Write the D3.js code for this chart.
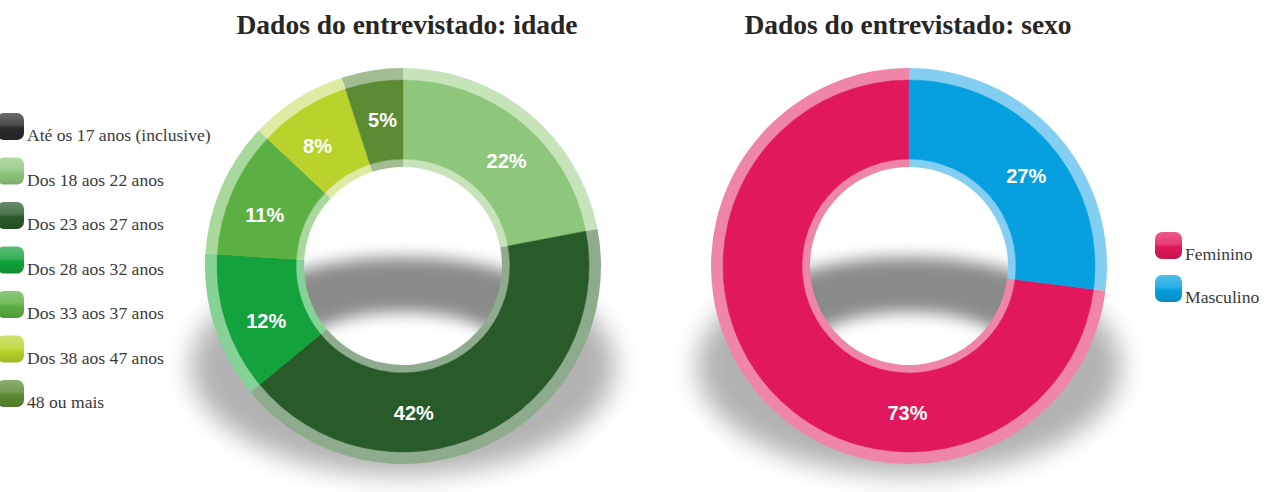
<!DOCTYPE html>
<html>
<head>
<meta charset="utf-8">
<script src="https://cdn.jsdelivr.net/npm/d3@7"></script>
<style>
  html, body { margin: 0; padding: 0; background: #ffffff; }
  svg { display: block; }
</style>
</head>
<body>
<svg id="chart" width="1273" height="492"></svg>
<script>
// ---------- data ----------
const titles = ["Dados do entrevistado: idade", "Dados do entrevistado: sexo"];

const ageCategories = ["Até os 17 anos (inclusive)", "Dos 18 aos 22 anos", "Dos 23 aos 27 anos",
  "Dos 28 aos 32 anos", "Dos 33 aos 37 anos", "Dos 38 aos 47 anos", "48 ou mais"];
const ageValues = [0, 22, 42, 12, 11, 8, 5];
const ageColors = ["#2b2b2b", "#8ec77c", "#295a2a", "#13a23b", "#5cb043", "#b9d32c", "#5b8b33"];
const ageRimColors = ["#777777", "#c7e3ba", "#8eab8d", "#86d196", "#a9d89c", "#dfeba3", "#a3bc91"];
const ageLabelNudge = [0, 5, 21, -4, -3, -3, 1]; // degrees

const sexCategories = ["Feminino", "Masculino"];
const sexValues = [73, 27];
const sexColors = ["#e1185b", "#06a0e0"];
const sexRimColors = ["#ef86aa", "#84cff1"];
const sexLabelNudge = [-48, 4];

// ---------- layout ----------
const svg = d3.select("#chart");
const defs = svg.append("defs");

defs.append("filter").attr("id", "blurOuter").attr("x", "-30%").attr("y", "-40%").attr("width", "160%").attr("height", "180%")
  .append("feGaussianBlur").attr("stdDeviation", 13);
defs.append("filter").attr("id", "blurInner").attr("x", "-30%").attr("y", "-40%").attr("width", "160%").attr("height", "180%")
  .append("feGaussianBlur").attr("stdDeviation", 8);

const R = { holeRim: 99, inner: 107, outer: 186, rim: 198 };

function ellipsePath(cx, cy, rx, ry) {
  return `M${cx - rx},${cy}A${rx},${ry} 0 1,0 ${cx + rx},${cy}A${rx},${ry} 0 1,0 ${cx - rx},${cy}Z`;
}

function drawDonut(id, cx, cy, cats, values, colors, rimColors, nudges, sortAsc) {
  const g = svg.append("g").attr("transform", `translate(${cx},${cy})`);

  const mask = defs.append("mask").attr("id", "m" + id).attr("maskUnits", "userSpaceOnUse")
    .attr("x", -400).attr("y", -400).attr("width", 800).attr("height", 800);
  mask.append("rect").attr("x", -400).attr("y", -400).attr("width", 800).attr("height", 800).attr("fill", "#fff");
  mask.append("circle").attr("r", R.inner).attr("fill", "#000");
  defs.append("clipPath").attr("id", "c" + id).append("circle").attr("r", R.inner);

  const ring = ellipsePath(0, 100, 212, 109) + ellipsePath(0, 102, 118, 56);
  // cast shadow around the bottom of the donut
  g.append("g").attr("mask", `url(#m${id})`)
    .append("path").attr("d", ring).attr("fill-rule", "evenodd")
    .attr("fill", "#000").attr("opacity", 0.3).attr("filter", "url(#blurOuter)");
  // cast shadow seen through the hole
  g.append("g").attr("clip-path", `url(#c${id})`)
    .append("path").attr("d", ring).attr("fill-rule", "evenodd")
    .attr("fill", "#000").attr("opacity", 0.46).attr("filter", "url(#blurInner)");

  const pie = d3.pie().value(d => d);
  if (sortAsc) pie.sortValues((a, b) => a - b); else pie.sort(null);
  const arcs = pie(values);

  const arcMain = d3.arc().innerRadius(R.inner).outerRadius(R.outer);
  const arcOuterRim = d3.arc().innerRadius(R.outer - 0.5).outerRadius(R.rim);
  const arcInnerRim = d3.arc().innerRadius(R.holeRim).outerRadius(R.inner + 0.5);

  g.selectAll("path.rimO").data(arcs).join("path").attr("class", "rimO")
    .attr("d", arcOuterRim).attr("fill", (d, i) => rimColors[i]);
  g.selectAll("path.rimI").data(arcs).join("path").attr("class", "rimI")
    .attr("d", arcInnerRim).attr("fill", (d, i) => rimColors[i]);
  g.selectAll("path.main").data(arcs).join("path").attr("class", "main")
    .attr("d", arcMain).attr("fill", (d, i) => colors[i])
    .attr("stroke", (d, i) => colors[i]).attr("stroke-width", 0.5);

  const rl = (R.inner + R.outer) / 2 + 1;
  const labelled = arcs.map((d, i) => ({ d, i })).filter(o => o.d.value > 0);
  g.selectAll("text.lbl").data(labelled).join("text").attr("class", "lbl")
    .attr("transform", o => {
      const a = (o.d.startAngle + o.d.endAngle) / 2 + nudges[o.i] * Math.PI / 180;
      return `translate(${rl * Math.sin(a)},${-rl * Math.cos(a)})`;
    })
    .attr("text-anchor", "middle").attr("dominant-baseline", "central")
    .attr("font-family", "'Liberation Sans', Arial, sans-serif").attr("font-weight", "bold")
    .attr("font-size", 20).attr("fill", "#ffffff")
    .text(o => o.d.value + "%");
}

function drawLegend(id, x0, y0, step, cats, colors) {
  const g = svg.append("g").attr("transform", `translate(${x0},${y0})`);
  const items = g.selectAll("g").data(cats).join("g")
    .attr("transform", (d, i) => `translate(0,${i * step})`);
  items.each(function (d, i) {
    const c = d3.color(colors[i]);
    const gid = `lg${id}${i}`;
    const lg = defs.append("linearGradient").attr("id", gid).attr("x1", 0).attr("y1", 0).attr("x2", 0).attr("y2", 1);
    lg.append("stop").attr("offset", "0%").attr("stop-color", d3.interpolateRgb(c, "#fff")(0.3));
    lg.append("stop").attr("offset", "45%").attr("stop-color", d3.interpolateRgb(c, "#fff")(0.15));
    lg.append("stop").attr("offset", "55%").attr("stop-color", c.formatHex());
    lg.append("stop").attr("offset", "100%").attr("stop-color", c.darker(0.4).formatHex());
    d3.select(this).append("rect").attr("x", 0).attr("y", 0).attr("width", 27).attr("height", 27)
      .attr("rx", 7).attr("fill", `url(#${gid})`);
    d3.select(this).append("text").attr("x", 30).attr("y", 28)
      .attr("font-family", "'Liberation Serif', 'Times New Roman', serif")
      .attr("font-size", 17.6).attr("fill", "#3a3a3a").text(d);
  });
}

// titles
svg.selectAll("text.title").data(titles).join("text").attr("class", "title")
  .attr("x", (d, i) => [407, 908][i]).attr("y", 34)
  .attr("text-anchor", "middle")
  .attr("font-family", "'Liberation Serif', 'Times New Roman', serif").attr("font-weight", "bold")
  .attr("font-size", 27.5).attr("fill", "#262626").text(d => d);

drawDonut("a", 403, 266, ageCategories, ageValues, ageColors, ageRimColors, ageLabelNudge, false);
drawDonut("b", 909, 266, sexCategories, sexValues, sexColors, sexRimColors, sexLabelNudge, true);

drawLegend("a", -3, 113, 44.5, ageCategories, ageColors);
drawLegend("b", 1155, 232, 43, sexCategories, sexColors);
</script>
</body>
</html>
